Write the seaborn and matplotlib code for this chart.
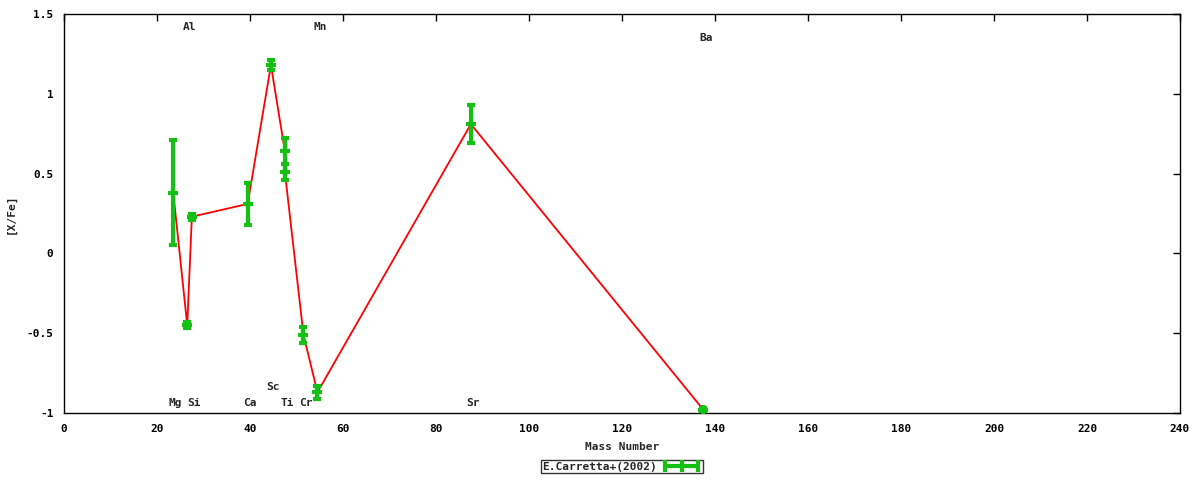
import matplotlib
matplotlib.use("Agg")
import matplotlib.pyplot as plt
from matplotlib.ticker import FuncFormatter, MultipleLocator
from matplotlib.lines import Line2D
import seaborn as sns
import pandas as pd

# E.Carretta+(2002) abundances
mass = [23.5, 26.5, 27.5, 39.5, 44.5, 47.5, 47.5, 51.5, 54.5, 87.5, 137.5]
xfe = [0.38, -0.45, 0.23, 0.31, 1.18, 0.64, 0.51, -0.51, -0.87, 0.81, -0.98]
err = [0.33, 0.02, 0.02, 0.13, 0.03, 0.08, 0.05, 0.05, 0.04, 0.12, 0.01]

# element labels: name, mass, label height
label_names = ["Mg", "Al", "Si", "Ca", "Sc", "Ti", "Cr", "Mn", "Sr", "Ba"]
label_mass = [24, 27, 28, 40, 45, 48, 52, 55, 88, 138]
label_y = [-0.94, 1.42, -0.94, -0.94, -0.84, -0.94, -0.94, 1.42, -0.94, 1.35]

sns.set_style("white")
plt.rcParams["font.family"] = ["DejaVu Sans Mono"]
plt.rcParams["font.weight"] = "bold"
plt.rcParams["font.size"] = 8

df = pd.DataFrame({"mass": mass, "xfe": xfe, "err": err})

fig = plt.figure(figsize=(12, 4.8), dpi=100)
ax = fig.add_axes([64 / 1200, 1 - 413 / 480, 1116 / 1200, 399 / 480])

green = "#14c014"
sns.lineplot(data=df, x="mass", y="xfe", sort=False, estimator=None,
             color="red", linewidth=1.3, ax=ax, zorder=2)
ax.errorbar(df["mass"], df["xfe"], yerr=df["err"], fmt="+", color=green,
            ecolor=green, elinewidth=3, capsize=3, capthick=3,
            markersize=7, markeredgewidth=3, zorder=3)

for name, m, y in zip(label_names, label_mass, label_y):
    ax.text(m, y, name, ha="center", va="center", fontsize=8, fontweight="bold")

ax.set_xlim(0, 240)
ax.set_ylim(-1, 1.5)
ax.xaxis.set_major_locator(MultipleLocator(20))
ax.yaxis.set_major_locator(MultipleLocator(0.5))
ax.yaxis.set_major_formatter(FuncFormatter(lambda v, p: "%g" % v))
ax.tick_params(direction="in", top=True, right=True, length=5, width=1,
               colors="black", labelsize=8)
ax.tick_params(axis="y", pad=7.5)
ax.tick_params(axis="x", pad=8)
for s in ax.spines.values():
    s.set_color("black")
    s.set_linewidth(1)

ax.set_xlabel("Mass Number", fontsize=8, fontweight="bold", labelpad=6)
ax.set_ylabel("[X/Fe]", fontsize=8, fontweight="bold", labelpad=8)

handle = Line2D([], [], color=green, linewidth=3, marker="|",
                markersize=8, markeredgewidth=3)
leg = ax.legend([handle], ["E.Carretta+(2002)"], loc="upper center",
                bbox_to_anchor=(0.5, -0.118), borderaxespad=0, frameon=True,
                fancybox=False, markerfirst=False, handlelength=3.6,
                handletextpad=0.4, numpoints=3, borderpad=0.15, fontsize=8)
leg.get_frame().set_edgecolor("black")
leg.get_frame().set_linewidth(1)

fig.savefig("out.png", dpi=100)
